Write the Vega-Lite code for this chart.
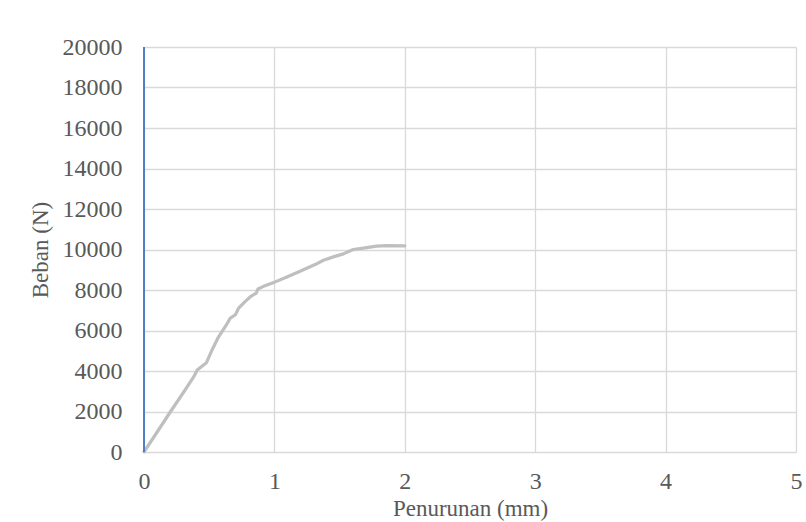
{
  "$schema": "https://vega.github.io/schema/vega-lite/v6.json",
  "width": 652,
  "height": 405,
  "autosize": {"type": "none"},
  "padding": {"left": 144, "top": 47, "right": 10, "bottom": 70},
  "background": "white",
  "config": {
    "view": {"stroke": null},
    "font": "Liberation Serif",
    "axis": {
      "labelFont": "Liberation Serif",
      "titleFont": "Liberation Serif",
      "labelColor": "#595959",
      "titleColor": "#595959",
      "labelFontSize": 24,
      "titleFontSize": 23,
      "titleFontWeight": "normal",
      "gridColor": "#D9D9D9",
      "gridWidth": 1.3,
      "ticks": false,
      "domain": false
    }
  },
  "datasets": {
    "curve": [
      {"s": 0.0, "p": 0},
      {"s": 0.204, "p": 2000},
      {"s": 0.306, "p": 2975},
      {"s": 0.382, "p": 3720},
      {"s": 0.408, "p": 4050},
      {"s": 0.479, "p": 4410},
      {"s": 0.522, "p": 5040},
      {"s": 0.566, "p": 5620},
      {"s": 0.624, "p": 6200},
      {"s": 0.662, "p": 6610},
      {"s": 0.701, "p": 6780},
      {"s": 0.726, "p": 7110},
      {"s": 0.777, "p": 7440},
      {"s": 0.820, "p": 7690},
      {"s": 0.861, "p": 7850},
      {"s": 0.874, "p": 8050},
      {"s": 0.917, "p": 8180},
      {"s": 1.006, "p": 8400},
      {"s": 1.096, "p": 8645},
      {"s": 1.197, "p": 8925},
      {"s": 1.312, "p": 9255},
      {"s": 1.376, "p": 9470},
      {"s": 1.452, "p": 9635},
      {"s": 1.529, "p": 9785},
      {"s": 1.605, "p": 10000},
      {"s": 1.682, "p": 10065},
      {"s": 1.783, "p": 10165},
      {"s": 1.860, "p": 10195},
      {"s": 2.0, "p": 10180}
    ],
    "axisline": [
      {"s": 0, "p": 0},
      {"s": 0, "p": 20000}
    ]
  },
  "layer": [
    {
      "data": {"name": "curve"},
      "mark": {"type": "line", "color": "#BFBFBF", "strokeWidth": 3.2, "strokeJoin": "round", "strokeCap": "round"},
      "encoding": {
        "x": {
          "field": "s", "type": "quantitative",
          "scale": {"domain": [0, 5], "nice": false, "zero": false},
          "axis": {"values": [0, 1, 2, 3, 4, 5], "format": "d", "title": "Penurunan (mm)", "labelPadding": 17, "titlePadding": 4, "labelFlush": false}
        },
        "y": {
          "field": "p", "type": "quantitative",
          "scale": {"domain": [0, 20000], "nice": false},
          "axis": {"values": [0, 2000, 4000, 6000, 8000, 10000, 12000, 14000, 16000, 18000, 20000], "format": "d", "title": "Beban (N)", "labelPadding": 22, "titlePadding": 10, "labelFlush": false}
        }
      }
    },
    {
      "data": {"name": "axisline"},
      "mark": {"type": "line", "color": "#4472C4", "strokeWidth": 1.8},
      "encoding": {
        "x": {"field": "s", "type": "quantitative"},
        "y": {"field": "p", "type": "quantitative"}
      }
    }
  ]
}
